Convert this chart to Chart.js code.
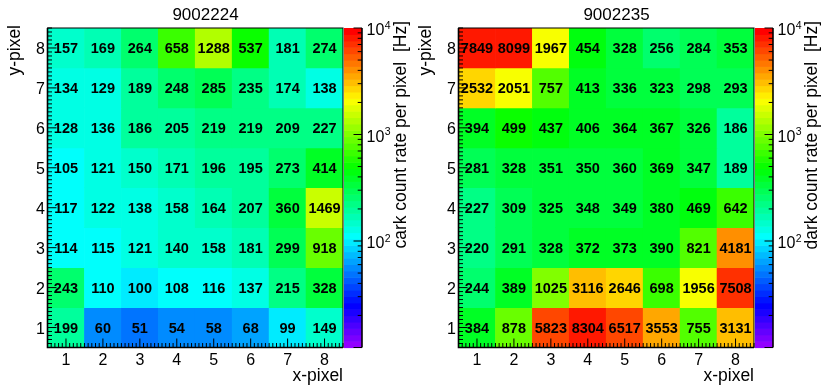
<!DOCTYPE html>
<html><head><meta charset="utf-8">
<script src="https://cdn.jsdelivr.net/npm/chart.js@4"></script>
<style>
html,body{margin:0;padding:0;background:#fff;}
#wrap{position:relative;width:822px;height:389px;overflow:hidden;}
.c{position:absolute;top:0;width:411px;height:389px;}
canvas{display:block;}
</style></head><body>
<div id="wrap">
<div class="c" style="left:0"><canvas id="c1" width="411" height="389"></canvas></div>
<div class="c" style="left:411px"><canvas id="c2" width="411" height="389"></canvas></div>
</div>
<script>
// ---- data ----
const xPixels = [1,2,3,4,5,6,7,8];
const yPixels = [1,2,3,4,5,6,7,8];
const titleLeft = '9002224';
const titleRight = '9002235';
const zTitleLeft = 'cark count rate per pixel  [Hz]';
const zTitleRight = 'dark count rate per pixel  [Hz]';
const zTickDecades = [10, 100, 1000, 10000];
// rows from y-pixel 1 (bottom) to 8 (top); each row lists x-pixel 1..8
const rates9002224 = [
  [199, 60, 51, 54, 58, 68, 99, 149],
  [243, 110, 100, 108, 116, 137, 215, 328],
  [114, 115, 121, 140, 158, 181, 299, 918],
  [117, 122, 138, 158, 164, 207, 360, 1469],
  [105, 121, 150, 171, 196, 195, 273, 414],
  [128, 136, 186, 205, 219, 219, 209, 227],
  [134, 129, 189, 248, 285, 235, 174, 138],
  [157, 169, 264, 658, 1288, 537, 181, 274]
];
const rates9002235 = [
  [384, 878, 5823, 8304, 6517, 3553, 755, 3131],
  [244, 389, 1025, 3116, 2646, 698, 1956, 7508],
  [220, 291, 328, 372, 373, 390, 821, 4181],
  [227, 309, 325, 348, 349, 380, 469, 642],
  [281, 328, 351, 350, 360, 369, 347, 189],
  [394, 499, 437, 406, 364, 367, 326, 186],
  [2532, 2051, 757, 413, 336, 323, 298, 293],
  [7849, 8099, 1967, 454, 328, 256, 284, 353]
];
const zMin = 10, zMax = 10000;

// ---- palette (ROOT "pretty" violet->red, 50 colours) ----
const nColors = 50;
function colorFromIndex(i){
  const hue = 280 - (i + 1) * 280 / nColors;
  return 'hsl(' + hue.toFixed(2) + ',100%,50%)';
}
function paletteColor(v){
  const f = (Math.log10(v) - Math.log10(zMin)) / (Math.log10(zMax) - Math.log10(zMin));
  let i = Math.floor(f * nColors + 0.0001);
  i = Math.max(0, Math.min(nColors - 1, i));
  return colorFromIndex(i);
}

const FONT = '"Liberation Sans", Arial, Helvetica, sans-serif';

const decor = {
  id: 'rootDecor',
  afterDatasetsDraw(chart, args, opts){
    const ctx = chart.ctx, ca = chart.chartArea;
    const xs = chart.scales.x, ys = chart.scales.y, zs = chart.scales.z;
    const cells = chart.data.datasets[0].data;
    const meta = chart.getDatasetMeta(0);
    ctx.save();
    // cell value texts
    ctx.fillStyle = '#000';
    ctx.font = 'bold 14.5px ' + FONT;
    ctx.textAlign = 'center';
    ctx.textBaseline = 'alphabetic';
    meta.data.forEach((el, i) => {
      const cy = (el.y + el.base) / 2;
      ctx.fillText(String(cells[i].v), el.x, cy + 5.3);
    });

    // colour bar
    const lzMin = Math.log10(zMin), lzMax = Math.log10(zMax);
    const cbL = ca.right + 1, cbR = ca.right + 19;
    for (let i = 0; i < nColors; i++){
      const v0 = Math.pow(10, lzMin + (lzMax - lzMin) * i / nColors);
      const v1 = Math.pow(10, lzMin + (lzMax - lzMin) * (i + 1) / nColors);
      const y0 = zs.getPixelForValue(v0), y1 = zs.getPixelForValue(v1);
      ctx.fillStyle = colorFromIndex(i);
      ctx.fillRect(cbL, y1, cbR - cbL, y0 - y1 + 0.6);
    }

    // frame
    ctx.strokeStyle = '#000';
    ctx.lineWidth = 1;
    ctx.strokeRect(ca.left, ca.top, ca.right - ca.left, ca.bottom - ca.top);
    ctx.lineWidth = 1.6;
    ctx.beginPath();
    ctx.moveTo(ca.left, ca.top); ctx.lineTo(ca.left, ca.bottom); ctx.lineTo(ca.right, ca.bottom);
    ctx.stroke();
    // colour bar axis line
    ctx.beginPath();
    ctx.moveTo(cbR, zs.getPixelForValue(zMax)); ctx.lineTo(cbR, zs.getPixelForValue(zMin));
    ctx.stroke();

    // axis ticks
    ctx.lineWidth = 1;
    ctx.beginPath();
    for (let k = 5; k <= 85; k++){
      const v = k / 10;
      const len = (k % 10 === 0) ? 9 : 4.5;
      const py = ys.getPixelForValue(v);
      ctx.moveTo(ca.left, py); ctx.lineTo(ca.left + len, py);
      const px = xs.getPixelForValue(v);
      ctx.moveTo(px, ca.bottom); ctx.lineTo(px, ca.bottom - len);
    }
    // colour bar ticks
    zTickDecades.forEach((d, j) => {
      const py = zs.getPixelForValue(d);
      ctx.moveTo(cbR, py); ctx.lineTo(cbR - 8.5, py);
      if (j < zTickDecades.length - 1){
        for (let m = 2; m <= 9; m++){
          const q = zs.getPixelForValue(d * m);
          ctx.moveTo(cbR, q); ctx.lineTo(cbR - 4.3, q);
        }
      }
    });
    ctx.stroke();

    // tick labels
    ctx.fillStyle = '#000';
    ctx.font = '16px ' + FONT;
    ctx.textAlign = 'right';
    yPixels.forEach(v => { ctx.fillText(String(v), ca.left - 2.5, ys.getPixelForValue(v) + 6); });
    ctx.textAlign = 'center';
    xPixels.forEach(v => { ctx.fillText(String(v), xs.getPixelForValue(v), ca.bottom + 17.5); });

    // colour bar labels 10^n (10^1 not labelled)
    zTickDecades.slice(1).forEach(d => {
      const py = zs.getPixelForValue(d);
      const ex = String(Math.round(Math.log10(d)));
      ctx.textAlign = 'left';
      ctx.font = '16px ' + FONT;
      ctx.fillText('10', cbR + 4.5, py + 7);
      const w = ctx.measureText('10').width;
      ctx.font = '10.5px ' + FONT;
      ctx.fillText(ex, cbR + 4.5 + w + 0.5, py + 0.5);
    });

    // titles
    ctx.font = '17px ' + FONT;
    ctx.textAlign = 'center';
    ctx.fillText(opts.title, chart.width / 2, 20);
    ctx.font = '17.5px ' + FONT;
    ctx.textAlign = 'right';
    ctx.fillText('x-pixel', ca.right, 381);
    // y title rotated
    ctx.save();
    ctx.translate(20, 25);
    ctx.rotate(-Math.PI / 2);
    ctx.textAlign = 'right';
    ctx.fillText('y-pixel', 0, 0);
    ctx.restore();
    // z title rotated
    ctx.save();
    ctx.translate(406, 21);
    ctx.rotate(-Math.PI / 2);
    ctx.textAlign = 'right';
    ctx.font = '17.5px ' + FONT;
    ctx.fillText(opts.zTitle, 0, 0);
    ctx.restore();

    ctx.restore();
  }
};

function makeChart(id, title, zTitle, rates){
  const cells = [], colors = [];
  yPixels.forEach((yv, r) => {
    xPixels.forEach((xv, c) => {
      const v = rates[r][c];
      cells.push({x: xv, y: [yv - 0.5, yv + 0.5], v: v});
      colors.push(paletteColor(v));
    });
  });
  const fixTicks = vals => (s => { s.ticks = vals.map(v => ({value: v})); });
  return new Chart(document.getElementById(id), {
    type: 'bar',
    data: {
      datasets: [{
        data: cells,
        backgroundColor: colors,
        borderWidth: 0,
        barPercentage: 1,
        categoryPercentage: 1,
        grouped: false
      }]
    },
    options: {
      responsive: false,
      animation: false,
      events: [],
      layout: {padding: {left: 47.5, top: 28, right: 68, bottom: 41.5}},
      plugins: {
        legend: {display: false},
        tooltip: {enabled: false},
        rootDecor: {title: title, zTitle: zTitle}
      },
      scales: {
        x: {type: 'linear', min: 0.5, max: 8.5, offset: false, display: false, afterBuildTicks: fixTicks(xPixels)},
        y: {type: 'linear', min: 0.5, max: 8.5, display: false, afterBuildTicks: fixTicks(yPixels)},
        z: {type: 'logarithmic', axis: 'y', position: 'right', min: zMin, max: zMax, display: false}
      }
    },
    plugins: [decor]
  });
}

makeChart('c1', titleLeft, zTitleLeft, rates9002224);
makeChart('c2', titleRight, zTitleRight, rates9002235);
</script>
</body></html>
